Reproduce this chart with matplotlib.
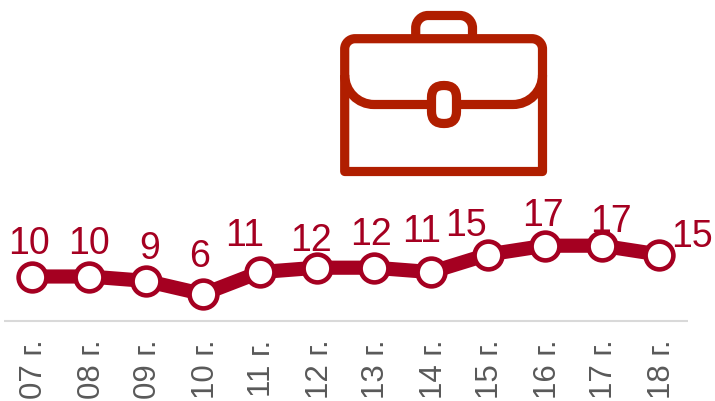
import matplotlib
matplotlib.use("Agg")
import matplotlib.pyplot as plt
from matplotlib.patches import FancyBboxPatch, PathPatch
from matplotlib.path import Path
from matplotlib.transforms import ScaledTranslation

plt.rcParams['font.family'] = ['Liberation Sans', 'DejaVu Sans']

years = ["07 г.", "08 г.", "09 г.", "10 г.", "11 г.", "12 г.", "13 г.", "14 г.", "15 г.", "16 г.", "17 г.", "18 г."]
values = [10, 10, 9, 6, 11, 12, 12, 11, 15, 17, 17, 15]
label_dx = [-3, 0, 4, -3, -15, -6, -3, -9, -22, -2, 9, 33]
label_dy = [23, 23, 23, 28, 27, 18, 24, 31, 19, 21, 15, 8]

LINE = "#A50021"
ICON = "#B01E00"
W, H = 715, 402

fig = plt.figure(figsize=(W / 100, H / 100), dpi=100)
fig.patch.set_facecolor("white")

L, R, B = 3.5, 687.5, 321.5
ax = fig.add_axes([L / W, (H - B) / H, (R - L) / W, B / H])
ax.patch.set_alpha(0)
pos = list(range(len(years)))
ax.plot(pos, values, color=LINE, lw=10.2, marker="o", ms=20, mfc="white",
        mec=LINE, mew=3.3, clip_on=False, solid_joinstyle="round", zorder=3)
ax.set_xlim(-0.5, len(years) - 0.5)
ax.set_ylim(0, B / 4.4)
ax.set_yticks([])
ax.set_xticks(pos)
ax.set_xticklabels(years, rotation=90, fontsize=22.5, color="#595959", va="top", ha="center")
ax.tick_params(axis="x", length=0, pad=13)
shift = ScaledTranslation(2.5 / 100, 0, fig.dpi_scale_trans)
for t in ax.get_xticklabels():
    t.set_transform(t.get_transform() + shift)
for s in ("top", "left", "right"):
    ax.spines[s].set_visible(False)
ax.spines["bottom"].set_color("#D9D9D9")
ax.spines["bottom"].set_linewidth(1.5)
ax.spines["bottom"].set_capstyle("butt")

for p, v, dx, dy in zip(pos, values, label_dx, label_dy):
    ax.annotate(str(v), (p, v), xytext=(dx, dy), textcoords="offset pixels",
                ha="center", va="baseline", fontsize=27, color=LINE, zorder=4,
                annotation_clip=False)

# Briefcase icon, in pixel coordinates of the figure
ic = fig.add_axes([0, 0, 1, 1])
ic.set_xlim(0, W)
ic.set_ylim(H, 0)
ic.axis("off")
ic.patch.set_alpha(0)
lw = 9.2 * 0.72
C4 = Path.CURVE4
K = 0.55


def arc(p0, corner, p1):
    c1 = (p0[0] + K * (corner[0] - p0[0]), p0[1] + K * (corner[1] - p0[1]))
    c2 = (p1[0] + K * (corner[0] - p1[0]), p1[1] + K * (corner[1] - p1[1]))
    return [c1, c2, p1]


# handle (open at bottom)
hv = [(415.7, 36), (415.7, 29)] + arc((415.7, 29), (415.7, 16.5), (428, 16.5)) + [(460, 16.5)] \
    + arc((460, 16.5), (472.5, 16.5), (472.5, 29)) + [(472.5, 36)]
hc = [Path.MOVETO, Path.LINETO, C4, C4, C4, Path.LINETO, C4, C4, C4, Path.LINETO]
ic.add_patch(PathPatch(Path(hv, hc), fc="none", ec=ICON, lw=lw))

# body: rounded at the top, nearly square at the bottom
bv = [(344.7, 172.5), (344.7, 50)] + arc((344.7, 50), (344.7, 39.7), (355, 39.7)) + [(532, 39.7)] \
    + arc((532, 39.7), (542.5, 39.7), (542.5, 50)) + [(542.5, 172.5), (344.7, 172.5)]
bc = [Path.MOVETO, Path.LINETO, C4, C4, C4, Path.LINETO, C4, C4, C4, Path.LINETO, Path.CLOSEPOLY]
ic.add_patch(PathPatch(Path(bv, bc), fc="none", ec=ICON, lw=lw, joinstyle="round"))

# flap
fv = [(344.7, 76)] + arc((344.7, 76), (344.7, 105.5), (374, 105.5)) + [(513, 105.5)] \
    + arc((513, 105.5), (542.5, 105.5), (542.5, 76))
fc_ = [Path.MOVETO, C4, C4, C4, Path.LINETO, C4, C4, C4]
ic.add_patch(PathPatch(Path(fv, fc_), fc="none", ec=ICON, lw=lw))

# clasp
ic.add_patch(FancyBboxPatch((443.5, 98.5), 1, 14, boxstyle="round,pad=12,rounding_size=12",
                            fc="white", ec=ICON, lw=lw, zorder=5))

fig.savefig("out.png", dpi=100, facecolor="white")
